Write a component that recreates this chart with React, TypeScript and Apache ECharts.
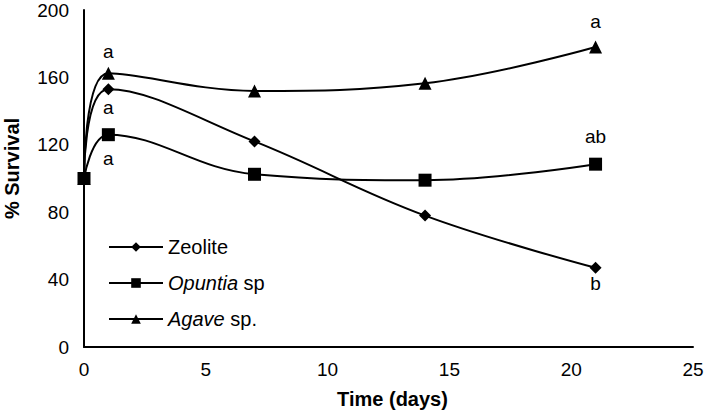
import React, { useEffect, useRef } from "react";
import * as echarts from "echarts";

const days = [0, 1, 7, 14, 21];
const zeolite = [100, 153, 122, 78, 47];
const opuntia = [100, 126, 102.5, 99, 108.5];
const agave = [100, 162.5, 152, 156.5, 178];

const zeoliteLetters = ["", "a", "", "", "b"];
const opuntiaLetters = ["", "a", "", "", "ab"];
const agaveLetters = ["", "a", "", "", "a"];

const xTicks = [0, 5, 10, 15, 20, 25];
const yTicks = [0, 40, 80, 120, 160, 200];

const FONT = "Liberation Sans, Arial, sans-serif";

function buildData(vals: number[], letters: string[], pos: string[], dists: number[]) {
  return vals.map((v, i) => {
    const item: any = { value: [days[i], v] };
    if (letters[i]) {
      item.label = {
        show: true,
        formatter: letters[i],
        position: pos[i],
        distance: dists[i],
        color: "#000",
        fontSize: 19,
        fontFamily: FONT,
      };
    }
    return item;
  });
}

export default function App() {
  const ref = useRef<HTMLDivElement>(null);
  useEffect(() => {
    document.body.style.margin = "0";
    const chart = echarts.init(ref.current!, null, { renderer: "svg" });
    const lineStyle = { color: "#000", width: 2 };
    chart.setOption({
      animation: false,
      backgroundColor: "#fff",
      grid: { left: 84, right: 16, top: 10, bottom: 67, containLabel: false, outerBoundsMode: "none" },
      legend: {
        orient: "vertical",
        left: 103,
        top: 232,
        itemWidth: 54,
        itemHeight: 12,
        itemGap: 16,
        textStyle: {
          fontSize: 20,
          fontFamily: FONT,
          color: "#000",
          rich: { i: { fontStyle: "italic", fontSize: 20, fontFamily: FONT, color: "#000" } },
        },
        formatter: (name: string) => {
          if (name === "Opuntia sp") return "{i|Opuntia} sp";
          if (name === "Agave sp.") return "{i|Agave} sp.";
          return name;
        },
        data: ["Zeolite", "Opuntia sp", "Agave sp."],
      },
      xAxis: {
        type: "value",
        min: xTicks[0],
        max: xTicks[xTicks.length - 1],
        interval: 5,
        name: "Time (days)",
        nameLocation: "middle",
        nameGap: 42,
        nameTextStyle: { fontSize: 20, fontWeight: "bold", fontFamily: FONT, color: "#000", padding: [0, 0, 0, 8] },
        axisLine: { lineStyle: { color: "#000", width: 2 } },
        axisTick: { show: false },
        splitLine: { show: false },
        axisLabel: { fontSize: 19, fontFamily: FONT, color: "#000", margin: 13 },
      },
      yAxis: {
        type: "value",
        min: yTicks[0],
        max: yTicks[yTicks.length - 1],
        interval: 40,
        name: "% Survival",
        nameLocation: "middle",
        nameGap: 62,
        nameTextStyle: { fontSize: 20, fontWeight: "bold", fontFamily: FONT, color: "#000", padding: [0, 0, 0, 20] },
        axisLine: { show: true, lineStyle: { color: "#000", width: 2 } },
        axisTick: { show: false },
        splitLine: { show: false },
        axisLabel: { fontSize: 19, fontFamily: FONT, color: "#000", margin: 15 },
      },
      series: [
        {
          name: "Zeolite",
          type: "line",
          smooth: 0.4,
          symbol: "diamond",
          symbolSize: 12,
          itemStyle: { color: "#000" },
          lineStyle,
          z: 3,
          data: buildData(zeolite, zeoliteLetters, ["", "bottom", "", "", "bottom"], [0, 3, 0, 0, 0]),
        },
        {
          name: "Opuntia sp",
          type: "line",
          smooth: 0.4,
          symbol: "rect",
          symbolSize: 13,
          itemStyle: { color: "#000" },
          lineStyle,
          z: 4,
          data: buildData(opuntia, opuntiaLetters, ["", "bottom", "", "", "top"], [0, 8, 0, 0, 12]),
        },
        {
          name: "Agave sp.",
          type: "line",
          smooth: 0.4,
          symbol: "triangle",
          symbolSize: 13,
          itemStyle: { color: "#000" },
          lineStyle,
          z: 2,
          data: buildData(agave, agaveLetters, ["", "top", "", "", "top"], [0, 6, 0, 0, 10]),
        },
      ],
    });
    return () => chart.dispose();
  }, []);
  return <div ref={ref} style={{ width: 709, height: 414 }} />;
}
